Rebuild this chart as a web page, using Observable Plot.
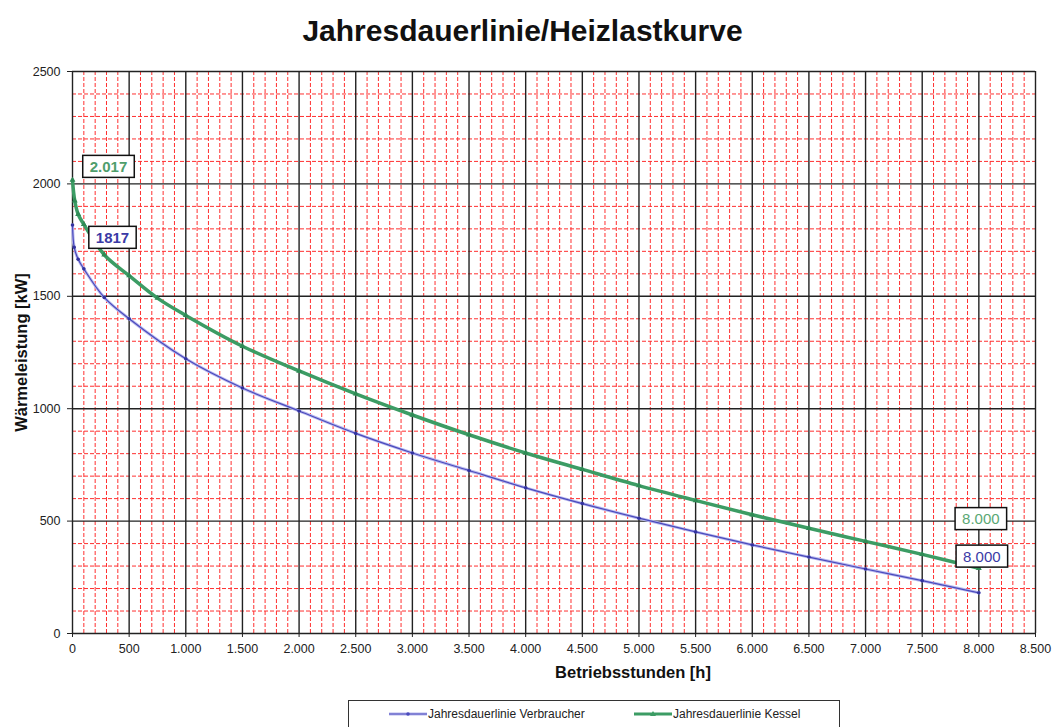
<!DOCTYPE html>
<html><head><meta charset="utf-8">
<script src="https://cdn.jsdelivr.net/npm/d3@7"></script>
<script src="https://cdn.jsdelivr.net/npm/@observablehq/plot@0.6"></script>
<style>
body{margin:0;background:#fff;font-family:"Liberation Sans",Arial,sans-serif;}
#wrap{position:relative;width:1063px;height:727px;overflow:hidden;background:#fff;}
#title{position:absolute;left:0;top:16px;width:1045px;text-align:center;font-weight:bold;font-size:30px;line-height:30px;color:#111;}
#chart{position:absolute;left:0;top:60px;}
#legend{position:absolute;left:348px;top:700px;width:492px;height:40px;border:1.5px solid #333;box-sizing:border-box;background:#fff;}
.item{position:absolute;top:4px;height:18px;font-size:12px;color:#222;display:flex;align-items:center;white-space:nowrap;}
.item svg{margin-right:1px;}
</style></head><body>
<div id="wrap">
<div id="title">Jahresdauerlinie/Heizlastkurve</div>
<div id="chart"></div>
<div id="legend"></div>
</div>
<script>
// ---- data ----
const seriesNames = ["Jahresdauerlinie Verbraucher", "Jahresdauerlinie Kessel"];
const verbraucherHours = [0, 15, 50, 100, 280, 500, 1000, 1500, 2000, 2500, 3000, 3500, 4000, 4500, 5000, 5500, 6000, 6500, 7000, 7500, 8000];
const verbraucherKW    = [1817, 1718, 1665, 1622, 1495, 1400, 1222, 1092, 990, 890, 803, 725, 648, 578, 513, 452, 394, 340, 287, 235, 181];
const kesselHours = [0, 20, 50, 100, 280, 500, 750, 1000, 1500, 2000, 2500, 3000, 3500, 4000, 4500, 5000, 5500, 6000, 6500, 7000, 7500, 8000];
const kesselKW    = [2017, 1925, 1865, 1820, 1685, 1592, 1492, 1415, 1278, 1168, 1066, 972, 884, 803, 730, 658, 592, 528, 468, 410, 352, 290];
const labelText = ["2.017", "1817", "8.000", "8.000"];
const labelX = [0, 0, 8000, 8000];
const labelY = [2017, 1817, 290, 181];
const xMajorTicks = [0, 500, 1000, 1500, 2000, 2500, 3000, 3500, 4000, 4500, 5000, 5500, 6000, 6500, 7000, 7500, 8000, 8500];
const yMajorTicks = [0, 500, 1000, 1500, 2000, 2500];
const xLabel = "Betriebsstunden [h]";
const yLabel = "Wärmeleistung [kW]";

// ---- styling ----
const GREEN = "#3c9c64", BLUE = "#4a4abc";
const labelStyle = [
  {fill: "#4f9e6c", weight: "bold", dx: 36, dy: -13},
  {fill: "#3a3aa6", weight: "bold", dx: 40, dy: 13},
  {fill: "#5aa874", weight: "normal", dx: 2, dy: -49},
  {fill: "#3a3aa6", weight: "normal", dx: 3, dy: -36}
];

const verbraucher = verbraucherHours.map((h, i) => ({h, kw: verbraucherKW[i]}));
const kessel = kesselHours.map((h, i) => ({h, kw: kesselKW[i]}));
const xMinor = d3.range(0, 8501, 100).filter(v => v % 500 !== 0);
const yMinor = d3.range(0, 2501, 100).filter(v => v % 500 !== 0);
const fmtDE = d => d3.format(",")(d).replace(/,/g, ".");

const labelMarks = labelText.map((t, i) => Plot.text([i], {
  x: j => labelX[j], y: j => labelY[j], text: j => labelText[j],
  dx: labelStyle[i].dx, dy: labelStyle[i].dy,
  fill: labelStyle[i].fill, fontWeight: labelStyle[i].weight, fontSize: 15,
  textAnchor: "middle", lineAnchor: "middle"
}));

const plot = Plot.plot({
  width: 1063, height: 630,
  marginLeft: 72, marginRight: 28, marginTop: 11, marginBottom: 57,
  style: {fontFamily: "'Liberation Sans', Arial, sans-serif", fontSize: "12.5px", color: "#222", background: "#fff"},
  x: {domain: [0, 8500]},
  y: {domain: [0, 2500]},
  marks: [
    Plot.ruleX(xMinor, {stroke: "#ff3030", strokeWidth: 1, strokeDasharray: "4,2"}),
    Plot.ruleY(yMinor, {stroke: "#ff3030", strokeWidth: 1, strokeDasharray: "4,2"}),
    Plot.ruleX(xMajorTicks, {stroke: "#222", strokeWidth: 1.4}),
    Plot.ruleY(yMajorTicks, {stroke: "#222", strokeWidth: 1.4}),
    Plot.axisX({ticks: xMajorTicks, tickFormat: fmtDE, tickSize: 4, tickPadding: 7, label: null}),
    Plot.axisY({ticks: yMajorTicks, tickFormat: d => String(d), tickSize: 5, tickPadding: 7, label: null}),
    Plot.text([xLabel], {frameAnchor: "bottom", dx: 79, dy: 44, fontWeight: "bold", fontSize: 16.5, textAnchor: "middle", fill: "#111"}),
    Plot.text([yLabel], {frameAnchor: "left", dx: -51, rotate: -90, fontWeight: "bold", fontSize: 16.5, textAnchor: "middle", fill: "#111"}),
    Plot.line(verbraucher, {x: "h", y: "kw", stroke: "#b8b8ee", strokeWidth: 3, curve: "catmull-rom"}),
    Plot.line(verbraucher, {x: "h", y: "kw", stroke: BLUE, strokeWidth: 1.2, curve: "catmull-rom"}),
    Plot.dot(verbraucher, {x: "h", y: "kw", r: 1.8, fill: "#33339f"}),
    Plot.line(kessel, {x: "h", y: "kw", stroke: GREEN, strokeWidth: 3.5, curve: "catmull-rom"}),
    Plot.dot(kessel, {x: "h", y: "kw", r: 2.2, symbol: "triangle", fill: "#2f8a55"}),
    ...labelMarks
  ]
});
document.getElementById("chart").append(plot);

// white boxes with black border behind the data labels
const labelSet = new Set(labelText);
plot.querySelectorAll("text").forEach(t => {
  const g = t.parentNode;
  const al = (g.getAttribute && g.getAttribute("aria-label")) || "";
  if (al.includes("tick") || al.includes("axis")) return;
  if (!labelSet.has(t.textContent)) return;
  const b = t.getBBox();
  const r = document.createElementNS("http://www.w3.org/2000/svg", "rect");
  r.setAttribute("x", b.x - 7);
  r.setAttribute("y", b.y - 2.5);
  r.setAttribute("width", b.width + 14);
  r.setAttribute("height", b.height + 5);
  r.setAttribute("fill", "#fff");
  r.setAttribute("stroke", "#111");
  r.setAttribute("stroke-width", "1.5");
  const tr = t.getAttribute("transform");
  if (tr) r.setAttribute("transform", tr);
  g.insertBefore(r, t);
});

// legend
const legend = document.getElementById("legend");
const items = [
  {name: seriesNames[0], left: 40, color: BLUE, w: 1.2, halo: true, symbol: "circle"},
  {name: seriesNames[1], left: 285, color: GREEN, w: 3, halo: false, symbol: "triangle"}
];
items.forEach(it => {
  const div = document.createElement("div");
  div.className = "item";
  div.style.left = it.left + "px";
  const ns = "http://www.w3.org/2000/svg";
  const s = document.createElementNS(ns, "svg");
  s.setAttribute("width", 38); s.setAttribute("height", 12);
  if (it.halo) {
    const h = document.createElementNS(ns, "line");
    h.setAttribute("x1", 0); h.setAttribute("x2", 38); h.setAttribute("y1", 6); h.setAttribute("y2", 6);
    h.setAttribute("stroke", "#b8b8ee"); h.setAttribute("stroke-width", 3);
    s.append(h);
  }
  const l = document.createElementNS(ns, "line");
  l.setAttribute("x1", 0); l.setAttribute("x2", 38); l.setAttribute("y1", 6); l.setAttribute("y2", 6);
  l.setAttribute("stroke", it.color); l.setAttribute("stroke-width", it.w);
  s.append(l);
  const m = document.createElementNS(ns, "path");
  m.setAttribute("d", it.symbol === "triangle" ? "M19,3L22,8L16,8Z" : "M17.2,6a1.8,1.8 0 1,0 3.6,0a1.8,1.8 0 1,0 -3.6,0");
  m.setAttribute("fill", it.color);
  s.append(m);
  div.append(s);
  const sp = document.createElement("span");
  sp.textContent = it.name;
  div.append(sp);
  legend.append(div);
});
</script>
</body></html>
